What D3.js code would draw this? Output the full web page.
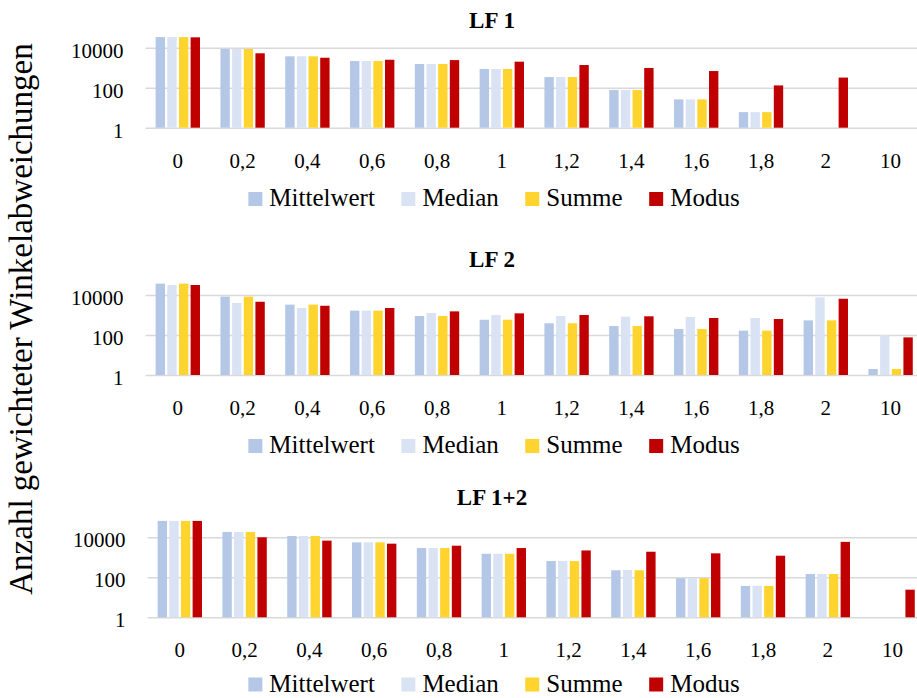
<!DOCTYPE html>
<html>
<head>
<meta charset="utf-8">
<script src="https://cdn.jsdelivr.net/npm/d3@7"></script>
<style>
  html, body { margin: 0; padding: 0; background: #fff; }
  svg { display: block; }
  text { font-family: "Liberation Serif", "DejaVu Serif", serif; fill: #000; }
</style>
</head>
<body>
<svg id="chart" width="917" height="698"></svg>
<script>
// ---------- data ----------
const categories = ["0", "0,2", "0,4", "0,6", "0,8", "1", "1,2", "1,4", "1,6", "1,8", "2", "10"];
const seriesNames = ["Mittelwert", "Median", "Summe", "Modus"];
const panelTitles = ["LF 1", "LF 2", "LF 1+2"];
const yTicks = [1, 100, 10000];

// LF 1
const lf1Mittelwert = [34000, 8600, 3700, 2150, 1530, 860, 340, 77, 26, 6, null, null];
const lf1Median     = [34000, 8600, 3700, 2150, 1530, 860, 340, 77, 26, 6, null, null];
const lf1Summe      = [34000, 8600, 3700, 2150, 1530, 860, 340, 77, 26, 6, null, null];
const lf1Modus      = [33000, 5250, 3150, 2500, 2400, 2000, 1360, 970, 680, 130, 320, null];

// LF 2
const lf2Mittelwert = [37000, 8300, 3300, 1650, 890, 580, 385, 280, 200, 165, 540, 2];
const lf2Median     = [31600, 4000, 2240, 1650, 1260, 1000, 890, 830, 800, 710, 7650, 96];
const lf2Summe      = [37000, 8300, 3300, 1650, 890, 580, 385, 280, 200, 165, 540, 2];
const lf2Modus      = [31600, 4600, 2900, 2240, 1520, 1210, 1000, 860, 710, 630, 6500, 76];

// LF 1+2
const lf12Mittelwert = [66000, 18500, 11600, 5600, 2900, 1500, 650, 225, 90, 37, 146, null];
const lf12Median     = [66000, 18500, 11600, 5600, 2900, 1500, 650, 230, 90, 38, 146, null];
const lf12Summe      = [66000, 18500, 11600, 5600, 2900, 1500, 650, 225, 90, 37, 146, null];
const lf12Modus      = [66000, 10000, 6800, 4800, 3800, 2900, 2200, 1900, 1580, 1200, 5900, 24];

const panelData = [
  [lf1Mittelwert, lf1Median, lf1Summe, lf1Modus],
  [lf2Mittelwert, lf2Median, lf2Summe, lf2Modus],
  [lf12Mittelwert, lf12Median, lf12Summe, lf12Modus]
];

// ---------- styles / layout ----------
const colors = ["#B4C7E7", "#DAE3F3", "#FFD42F", "#C00000"];
const layout = [
  { left: 145.4, base: 127.7, titleY: 28,  legendY: 199 },
  { left: 145.4, base: 375,   titleY: 267, legendY: 446 },
  { left: 147.4, base: 617.3, titleY: 505, legendY: 684.5 }
];
const plotW = 777.6;
const plotH = 100;     // 1 .. 100000 on log scale, 20 px per decade
const titleX = 492;
const legendCX = 494;

const svg = d3.select("#chart");

// Y axis title
svg.append("text")
  .attr("transform", "translate(31.7,319) rotate(-90)")
  .attr("text-anchor", "middle")
  .style("font-size", "33px")
  .text("Anzahl gewichteter Winkelabweichungen");

layout.forEach((L, pi) => {
  const g = svg.append("g");
  const x0 = d3.scaleBand().domain(categories)
    .range([L.left, L.left + plotW]).paddingInner(0.28).paddingOuter(0.14);
  const x1 = d3.scaleBand().domain(seriesNames).range([0, x0.bandwidth()]);
  const y = d3.scaleLog().domain([1, 100000]).range([L.base, L.base - plotH]);

  // gridlines + y tick labels
  const yAxis = d3.axisLeft(y).tickValues(yTicks).tickFormat(d3.format("d"))
    .tickSize(-(plotW + 10)).tickPadding(22);
  const ya = g.append("g").attr("transform", `translate(${L.left},0)`).call(yAxis);
  ya.select(".domain").remove();
  ya.selectAll(".tick line").attr("stroke", "#D9D9D9").attr("stroke-width", 1.4);
  ya.selectAll(".tick text")
    .attr("dy", "0.45em")
    .style("font-size", "21px").style("fill", "#000")
    .style("font-family", "'Liberation Serif', serif");

  // x tick labels
  const xAxis = d3.axisBottom(x0).tickSize(0).tickPadding(25);
  const xa = g.append("g").attr("transform", `translate(0,${L.base})`).call(xAxis);
  xa.select(".domain").remove();
  xa.selectAll(".tick text")
    .style("font-size", "21px").style("fill", "#000")
    .style("font-family", "'Liberation Serif', serif");

  // bars
  const rows = [];
  panelData[pi].forEach((vals, si) => {
    vals.forEach((v, ci) => {
      if (v != null) rows.push({ s: seriesNames[si], si, c: categories[ci], v });
    });
  });
  const inset = 1.15;
  g.append("g").selectAll("rect").data(rows).join("rect")
    .attr("x", d => x0(d.c) + x1(d.s) + inset)
    .attr("width", x1.bandwidth() - 2 * inset)
    .attr("y", d => y(d.v))
    .attr("height", d => L.base - y(d.v))
    .attr("fill", d => colors[d.si]);

  // title
  g.append("text")
    .attr("x", titleX).attr("y", L.titleY)
    .attr("text-anchor", "middle")
    .style("font-size", "23px").style("font-weight", "bold")
    .text(panelTitles[pi]);

  // legend
  const lg = g.append("g");
  let cx = 0;
  const sw = 14, gapText = 7, gapItem = 26.5;
  seriesNames.forEach((name, si) => {
    const item = lg.append("g").attr("transform", `translate(${cx},0)`);
    item.append("rect").attr("x", 0).attr("y", -sw / 2).attr("width", sw).attr("height", sw)
      .attr("fill", colors[si]);
    const t = item.append("text").attr("x", sw + gapText).attr("y", 7.2)
      .style("font-size", "25px").text(name);
    const w = t.node().getComputedTextLength();
    cx += sw + gapText + w + gapItem;
  });
  const totalW = cx - gapItem;
  lg.attr("transform", `translate(${legendCX - totalW / 2},${L.legendY})`);
});
</script>
</body>
</html>
